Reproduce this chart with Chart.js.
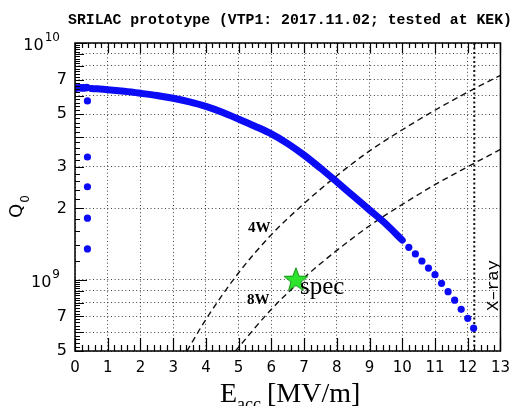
<!DOCTYPE html>
<html><head><meta charset="utf-8">
<script src="https://cdn.jsdelivr.net/npm/chart.js@4"></script>
<style>html,body{margin:0;padding:0;background:#fff}</style>
</head><body>
<canvas id="c" width="518" height="406" style="width:518px;height:406px;display:block"></canvas>
<script>
// ---- data ----
const eMain = [0.5,1,1.5,2,2.5,3,3.5,4,4.5,5,5.5,6,6.5,7,7.5,8,8.5,9,9.5,10];
const qMain = [6.43e9,6.35e9,6.25e9,6.13e9,6.0e9,5.84e9,5.64e9,5.40e9,5.10e9,4.77e9,4.45e9,4.13e9,3.76e9,3.36e9,2.96e9,2.59e9,2.26e9,1.97e9,1.72e9,1.47e9];
const eBlob = [0.04,0.12,0.2,0.28,0.36];
const qBlob = [6.45e9,6.47e9,6.46e9,6.46e9,6.48e9];
const eLow = [0.38,0.38,0.38,0.38,0.38];
const qLow = [5.69e9,3.3e9,2.47e9,1.82e9,1.35e9];
const eHigh = [10.2,10.4,10.6,10.8,11.0,11.2,11.4,11.6,11.8,12.0,12.18];
const qHigh = [1.37e9,1.285e9,1.20e9,1.12e9,1.05e9,0.966e9,0.89e9,0.82e9,0.75e9,0.687e9,0.624e9];
const e4W = [3.42,4,5,6,7,8,9,10,11,12,13];
const q4W = [5.0e8,6.8e8,1.07e9,1.55e9,2.1e9,2.75e9,3.5e9,4.3e9,5.2e9,6.2e9,7.3e9];
const e8W = [4.9,6,7,8,9,10,11,12,13];
const q8W = [5.0e8,7.5e8,1.02e9,1.33e9,1.69e9,2.08e9,2.52e9,3.0e9,3.55e9];
const eXray = [12.2,12.2];
const qXray = [5e8,1e10];
const eSpec = [6.75];
const qSpec = [1.0e9];
const xTicks = [0,1,2,3,4,5,6,7,8,9,10,11,12,13];
const yGrid = [5e8,6e8,7e8,8e8,9e8,1e9,2e9,3e9,4e9,5e9,6e9,7e9,8e9,9e9,1e10];
const yLabels = {5e8:'5',7e8:'7',2e9:'2',3e9:'3',5e9:'5',7e9:'7'};
const yDecades = [[1e9,'9'],[1e10,'10']];
const titleText = 'SRILAC prototype (VTP1: 2017.11.02; tested at KEK)';

const pts = (xs, ys) => xs.map((x, i) => ({x, y: ys[i]}));
const BLUE = '#0b0bf5';

// star image for the spec point
const star = document.createElement('canvas');
star.width = 28; star.height = 28;
(function(){
  const g = star.getContext('2d');
  g.beginPath();
  for (let i = 0; i < 10; i++) {
    const r = i % 2 === 0 ? 12.5 : 5.2;
    const a = -Math.PI/2 + i*Math.PI/5;
    const px = 14 + r*Math.cos(a), py = 14.5 + r*Math.sin(a);
    i === 0 ? g.moveTo(px, py) : g.lineTo(px, py);
  }
  g.closePath();
  g.fillStyle = '#2ee52e';
  g.fill();
  g.strokeStyle = '#139013';
  g.lineWidth = 1;
  g.stroke();
})();

const decor = {
  id: 'decor',
  afterDraw(chart) {
    const ctx = chart.ctx, a = chart.chartArea;
    const xs = chart.scales.x, ys = chart.scales.y;
    ctx.save();
    ctx.strokeStyle = '#000';
    ctx.lineWidth = 1.5;
    ctx.strokeRect(a.left, a.top, a.right - a.left, a.bottom - a.top);
    // x tick marks (inside, bottom and top)
    ctx.lineWidth = 1.2;
    ctx.beginPath();
    for (let i = 0; i <= 65; i++) {
      const px = Math.round(xs.getPixelForValue(i*0.2)) + 0.5;
      const major = i % 5 === 0;
      ctx.moveTo(px, a.bottom); ctx.lineTo(px, a.bottom - (major ? 13 : 6));
      ctx.moveTo(px, a.top); ctx.lineTo(px, a.top + (major ? 10 : 5));
    }
    // y tick marks (inside, left)
    const yt = [];
    for (let k = 0; k <= 25; k++) yt.push(5e8 + k*2e7);
    for (let k = 1; k <= 45; k++) yt.push(1e9 + k*2e8);
    yt.forEach(v => {
      const rel = v / Math.pow(10, Math.floor(Math.log10(v) + 1e-9));
      const isInt = Math.abs(rel - Math.round(rel)) < 1e-6;
      const isDec = Math.abs(rel - 1) < 1e-6;
      const len = isDec ? 12 : (isInt ? 9 : 5);
      const py = Math.round(ys.getPixelForValue(v)) + 0.5;
      ctx.moveTo(a.left, py); ctx.lineTo(a.left + len, py);
    });
    ctx.stroke();

    ctx.fillStyle = '#000';
    // decade labels with superscripts
    ctx.textAlign = 'right'; ctx.textBaseline = 'alphabetic';
    yDecades.forEach(([v, exp]) => {
      const py = ys.getPixelForValue(v);
      ctx.font = '12px "DejaVu Sans"';
      const ew = ctx.measureText(exp).width;
      const right = 60;
      ctx.fillText(exp, right, py - 2);
      ctx.font = '16px "DejaVu Sans"';
      ctx.fillText('10', right - ew - 1, py + 7);
    });
    // title
    ctx.font = 'bold 14.8px "Liberation Mono"';
    ctx.textAlign = 'center';
    ctx.fillText(titleText, 290, 24);
    // x axis title
    ctx.textAlign = 'left';
    ctx.font = '28px "Liberation Serif"';
    ctx.fillText('E', 220, 402);
    let w = ctx.measureText('E').width;
    ctx.font = '18px "Liberation Serif"';
    ctx.fillText('acc', 220 + w, 410);
    ctx.font = '28px "Liberation Serif"';
    ctx.fillText('[MV/m]', 267, 402);
    // y axis title
    ctx.save();
    ctx.translate(22, 218);
    ctx.rotate(-Math.PI/2);
    ctx.font = '18px "DejaVu Sans"';
    ctx.fillText('Q', 0, 0);
    w = ctx.measureText('Q').width;
    ctx.font = '12px "DejaVu Sans"';
    ctx.fillText('0', w + 1, 7);
    ctx.restore();
    // annotations
    ctx.font = 'bold 15px "Liberation Serif"';
    ctx.fillText('4W', 248, 232);
    ctx.fillText('8W', 247, 304);
    ctx.font = '25px "Liberation Serif"';
    ctx.fillText('spec', 300, 294);
    ctx.save();
    ctx.translate(498, 311);
    ctx.rotate(-Math.PI/2);
    ctx.font = '17px "Liberation Mono"';
    ctx.fillText('X\u2013ray', 0, 0);
    ctx.restore();
    ctx.restore();
  }
};

new Chart(document.getElementById('c'), {
  type: 'scatter',
  data: {
    datasets: [
      {label:'spec', data: pts(eSpec, qSpec), pointStyle: star, pointRadius: 12, order: 0},
      {label:'high', data: pts(eHigh, qHigh), pointRadius: 3.6, pointBackgroundColor: BLUE, pointBorderWidth: 0, order: 1},
      {label:'low', data: pts(eLow, qLow), pointRadius: 3.6, pointBackgroundColor: BLUE, pointBorderWidth: 0, order: 1},
      {label:'blob', data: pts(eBlob, qBlob), pointRadius: 3.8, pointBackgroundColor: BLUE, pointBorderWidth: 0, order: 1},
      {label:'main', type:'line', data: pts(eMain, qMain), borderColor: BLUE, borderWidth: 7, pointRadius: 0, cubicInterpolationMode: 'monotone', borderCapStyle: 'round', borderJoinStyle: 'round', fill: false, order: 2},
      {label:'4W', type:'line', data: pts(e4W, q4W), borderColor: '#111', borderWidth: 1.4, borderDash: [6,4], pointRadius: 0, cubicInterpolationMode: 'monotone', fill: false, order: 3},
      {label:'8W', type:'line', data: pts(e8W, q8W), borderColor: '#111', borderWidth: 1.4, borderDash: [6,4], pointRadius: 0, cubicInterpolationMode: 'monotone', fill: false, order: 3},
      {label:'X-ray', type:'line', data: pts(eXray, qXray), borderColor: '#111', borderWidth: 2, borderDash: [2,2.5], pointRadius: 0, fill: false, order: 3}
    ]
  },
  options: {
    responsive: false,
    animation: false,
    devicePixelRatio: 1,
    layout: {padding: {top: 43, right: 10, left: 0, bottom: 0}},
    plugins: {legend: {display: false}, tooltip: {enabled: false}, title: {display: false}},
    scales: {
      x: {
        type: 'linear', min: 0, max: 13,
        afterFit(s) { s.height = 55; },
        afterBuildTicks(s) { s.ticks = xTicks.map(v => ({value: v})); },
        border: {display: false, dash: [1,2.6]},
        grid: {color: 'rgba(0,0,0,0.75)', lineWidth: 1, drawTicks: false},
        ticks: {autoSkip: false, maxRotation: 0, padding: 8, color: '#000', font: {family: 'DejaVu Sans', size: 15}}
      },
      y: {
        type: 'logarithmic', min: 5e8, max: 1e10,
        afterFit(s) { s.width = 75; },
        afterBuildTicks(s) { s.ticks = yGrid.map(v => ({value: v})); },
        border: {display: false, dash: [1,2.6]},
        grid: {color: 'rgba(0,0,0,0.75)', lineWidth: 1, drawTicks: false},
        ticks: {autoSkip: false, padding: 8, color: '#000', font: {family: 'DejaVu Sans', size: 16},
          callback: v => yLabels[v] || ''}
      }
    }
  },
  plugins: [decor]
});
</script>
</body></html>
